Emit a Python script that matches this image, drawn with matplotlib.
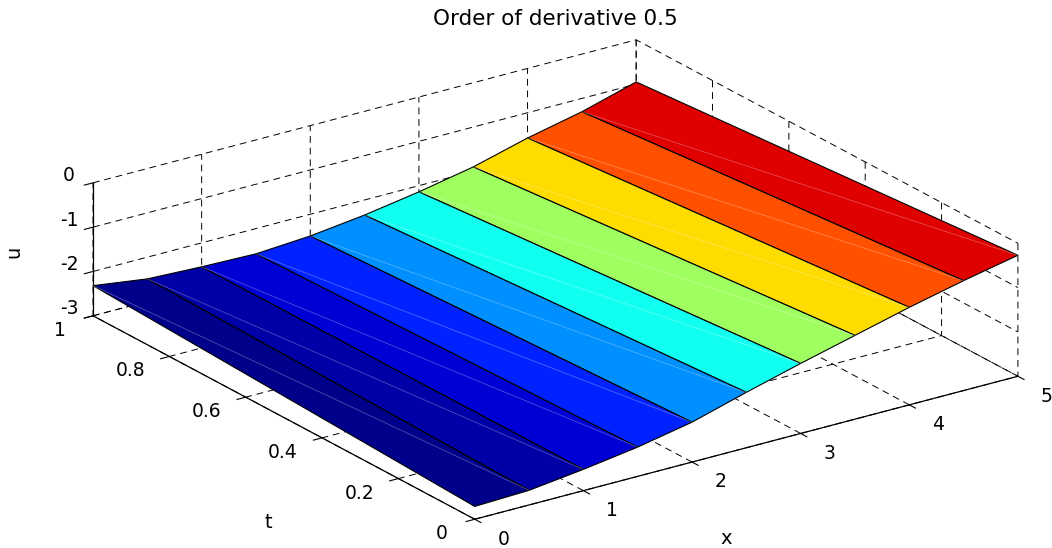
#!/usr/bin/env python3

import numpy as np
import matplotlib
matplotlib.use('Agg')
from matplotlib import pyplot as plt
from matplotlib.colors import to_rgba

x = [0, 0.5, 1, 1.5, 2, 2.5, 3, 3.5, 4, 4.5, 5]
t = [0, 1]
u_t0 = [-2.71, -2.67, -2.52, -2.34, -2.10, -1.75, -1.42, -1.11, -0.80, -0.52, -0.27]
u_t1 = [-2.32, -2.49, -2.54, -2.57, -2.49, -2.34, -2.14, -1.90, -1.57, -1.30, -0.95]
strip_colors = ['#00008a', '#0000a6', '#0000d4', '#0022ff', '#008fff',
                '#10fff0', '#9fff60', '#ffdc00', '#ff5000', '#df0000']
x_ticks = [0, 1, 2, 3, 4, 5]
t_ticks = [0, 0.2, 0.4, 0.6, 0.8, 1]
t_labels = ['0', '0.2', '0.4', '0.6', '0.8', '1']
u_ticks = [-3, -2, -1, 0]

plt.rcParams['font.family'] = ['DejaVu Sans']
plt.rcParams['axes.unicode_minus'] = False
plt.rcParams['font.size'] = 14

W, H = 1052, 548
side = 922
fig = plt.figure(figsize=(W / 100, H / 100), dpi=100)
ax = fig.add_axes([(543 - side / 2) / W, (256 - side / 2) / H, side / W, side / H],
                  projection='3d', proj_type='ortho', computed_zorder=False)
ax.view_init(elev=22, azim=-125.1)
ax.set_box_aspect((1, 1, 0.216))
ax.patch.set_alpha(0)

X, T = np.meshgrid(x, t)
U = np.array([u_t0, u_t1])
rgba = [to_rgba(c) for c in strip_colors]
rgba.append(rgba[-1])
face = np.array([rgba, rgba])
surf = ax.plot_surface(X, T, U, facecolors=face, rstride=1, cstride=1, shade=False,
                       edgecolor='k', linewidth=0.8, zorder=2)
surf.set_clip_on(False)

# faint triangle diagonals inside each strip
for i in range(len(x) - 1):
    ax.plot([x[i], x[i + 1]], [1, 0], [u_t1[i], u_t0[i + 1]],
            color='white', alpha=0.3, linewidth=0.6, zorder=3, clip_on=False)

ax.set_xlim(0, 5, view_margin=0)
ax.set_ylim(0, 1, view_margin=0)
ax.set_zlim(-3, 0, view_margin=0)
ax.set_xticks(x_ticks)
ax.set_yticks(t_ticks)
ax.set_yticklabels(t_labels)
ax.set_zticks(u_ticks)

for axis in (ax.xaxis, ax.yaxis, ax.zaxis):
    axis.set_pane_color((1, 1, 1, 0))
    axis.pane.set_edgecolor('none')
    axis.line.set_color('k')
    axis.line.set_linewidth(0.9)
    axis._axinfo['grid'].update(color='k', linestyle=(0, (7, 5)), linewidth=0.7)
    axis._axinfo['tick'].update(inward_factor=0.2, outward_factor=0.0)
    axis._axinfo['tick']['linewidth'] = {True: 0.8, False: 0.8}

ax.tick_params(axis='x', pad=18, labelsize=13.5)
ax.tick_params(axis='y', pad=17, labelsize=13.5)
ax.tick_params(axis='z', pad=1, labelsize=13.5)
for lab in ax.get_xticklabels():
    lab.set_va('baseline')
for lab in ax.get_yticklabels():
    lab.set_va('baseline')
    if lab.get_text() in ('0', '1'):
        lab.set_ha('left')
for lab in ax.get_zticklabels():
    lab.set_va('baseline')

fig.text(555 / W, 1 - 19 / H, 'Order of derivative 0.5', ha='center', va='center', fontsize=15.5)
fig.text(726 / W, 1 - 538 / H, 'x', ha='center', va='center', fontsize=14)
fig.text(268 / W, 1 - 522 / H, 't', ha='center', va='center', fontsize=14)
fig.text(14 / W, 1 - 252 / H, 'u', ha='center', va='center', fontsize=14, rotation=90)

fig.savefig('out.png', dpi=100)
